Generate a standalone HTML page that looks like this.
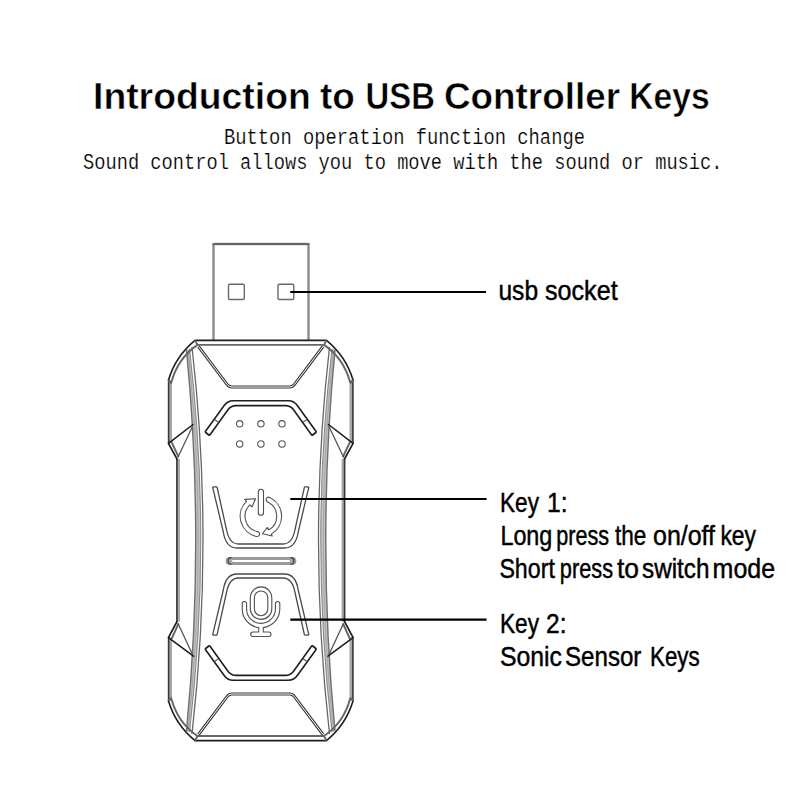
<!DOCTYPE html>
<html><head><meta charset="utf-8"><style>
html,body{margin:0;padding:0;background:#fff;width:800px;height:800px;overflow:hidden}
svg{display:block}
</style></head><body>
<svg width="800" height="800" viewBox="0 0 800 800">
<rect width="800" height="800" fill="#fff"/>
<g fill="#000">
<g font-family="'Liberation Sans', sans-serif" font-weight="bold" font-size="37.6" stroke="#fff" stroke-width="0.5">
<text x="93" y="108.7" textLength="217.8" lengthAdjust="spacingAndGlyphs">Introduction</text>
<text x="320" y="108.7" textLength="34.8" lengthAdjust="spacingAndGlyphs">to</text>
<text x="365.5" y="108.7" textLength="69.4" lengthAdjust="spacingAndGlyphs">USB</text>
<text x="444" y="108.7" textLength="176" lengthAdjust="spacingAndGlyphs">Controller</text>
<text x="629.25" y="108.7" textLength="80.4" lengthAdjust="spacingAndGlyphs">Keys</text>
</g>
<text transform="matrix(1 0 0 1.07 0 -10.08)" x="224" y="144" font-family="'Liberation Mono', monospace" font-size="20.5" stroke="#fff" stroke-width="0.2" textLength="361" lengthAdjust="spacingAndGlyphs">Button operation function change</text>
<text transform="matrix(1 0 0 1.07 0 -11.83)" x="83" y="169" font-family="'Liberation Mono', monospace" font-size="20.5" stroke="#fff" stroke-width="0.2" textLength="639.5" lengthAdjust="spacingAndGlyphs">Sound control allows you to move with the sound or music.</text>
<g font-family="'Liberation Sans', sans-serif" font-size="27.2" stroke="#000" stroke-width="0.45">
<text x="498.40" y="299.7" textLength="39.70" lengthAdjust="spacingAndGlyphs">usb</text>
<text x="545.00" y="299.7" textLength="72.61" lengthAdjust="spacingAndGlyphs">socket</text>
<text x="500.00" y="511.8" textLength="39.05" lengthAdjust="spacingAndGlyphs">Key</text>
<text x="547.00" y="511.8" textLength="20.57" lengthAdjust="spacingAndGlyphs">1:</text>
<text x="500.40" y="544.6" textLength="51.95" lengthAdjust="spacingAndGlyphs">Long</text>
<text x="556.20" y="544.6" textLength="52.88" lengthAdjust="spacingAndGlyphs">press</text>
<text x="615.00" y="544.6" textLength="31.42" lengthAdjust="spacingAndGlyphs">the</text>
<text x="653.00" y="544.6" textLength="62.02" lengthAdjust="spacingAndGlyphs">on/off</text>
<text x="720.40" y="544.6" textLength="35.66" lengthAdjust="spacingAndGlyphs">key</text>
<text x="499.40" y="577.8" textLength="55.43" lengthAdjust="spacingAndGlyphs">Short</text>
<text x="559.80" y="577.8" textLength="53.27" lengthAdjust="spacingAndGlyphs">press</text>
<text x="617.00" y="577.8" textLength="22.05" lengthAdjust="spacingAndGlyphs">to</text>
<text x="642.00" y="577.8" textLength="67.48" lengthAdjust="spacingAndGlyphs">switch</text>
<text x="712.60" y="577.8" textLength="62.53" lengthAdjust="spacingAndGlyphs">mode</text>
<text x="500.00" y="632.8" textLength="39.07" lengthAdjust="spacingAndGlyphs">Key</text>
<text x="546.00" y="632.8" textLength="20.46" lengthAdjust="spacingAndGlyphs">2:</text>
<text x="500.00" y="665.6" textLength="62.02" lengthAdjust="spacingAndGlyphs">Sonic</text>
<text x="565.00" y="665.6" textLength="76.41" lengthAdjust="spacingAndGlyphs">Sensor</text>
<text x="650.00" y="665.6" textLength="49.72" lengthAdjust="spacingAndGlyphs">Keys</text>
</g>
</g>
<!-- USB plug -->
<rect x="213.5" y="244" width="95" height="110" rx="1.2" fill="none" stroke="#8a8a8a" stroke-width="2.4"/>
<line x1="212.5" y1="244" x2="309.5" y2="244" stroke="#666" stroke-width="1.8"/>
<rect x="228.5" y="284.2" width="15.8" height="15.3" rx="1.2" fill="none" stroke="#6a6a6a" stroke-width="1.4"/>
<rect x="278" y="284.2" width="15.8" height="15.3" rx="1.2" fill="none" stroke="#6a6a6a" stroke-width="1.4"/>
<!-- body -->
<path d="M195 340.3 L326.5 340.3 Q346 356.4 353 380 L353 700.8 Q346 724.4 326.5 740.6 L195 740.6 Q175.5 724.4 168.5 700.8 L168.5 380 Q175.5 356.4 195 340.3 Z" fill="#fff"/>
<path d="M186.5 350 Q205 540 186.5 731 L189.5 732 Q212 540 189.5 349 Z M 335 350 Q 316.5 540 335 731 L 332 732 Q 309.5 540 332 349 Z" fill="#c4c4c4"/>
<path d="M186.5 350 Q205 540 186.5 731 M 335 350 Q 316.5 540 335 731" fill="none" stroke="#6e6e6e" stroke-width="1.4" />
<path d="M188 349.5 Q208.5 540 188 731.5 M 333.5 349.5 Q 313 540 333.5 731.5" fill="none" stroke="#a0a0a0" stroke-width="0.9" />
<path d="M189.5 349 Q212 540 189.5 732 M 332 349 Q 309.5 540 332 732" fill="none" stroke="#8a8a8a" stroke-width="1.1" />
<path d="M192 347 Q214 540 192 734 M 329.5 347 Q 307.5 540 329.5 734" fill="none" stroke="#666" stroke-width="1.3" />
<path d="M170.2 380 L170.2 443 M178.1 459 L178.1 621.5 M170.2 637.5 L170.2 700.8 M 351.3 380 L 351.3 443 M 343.4 459 L 343.4 621.5 M 351.3 637.5 L 351.3 700.8" fill="none" stroke="#a8a8a8" stroke-width="3.6" />
<path d="M168.6 379.5 L168.6 444 M176.9 458.5 L176.9 622 M168.6 637 L168.6 701.5 M 352.9 379.5 L 352.9 444 M 344.6 458.5 L 344.6 622 M 352.9 637 L 352.9 701.5" fill="none" stroke="#3a3a3a" stroke-width="1.6" />
<path d="M168.50 380.00 Q175.50 356.40 195.00 340.40 L326.50 340.40 Q346.00 356.40 353.00 380.00 M168.50 701.00 Q175.50 724.60 195.00 740.60 L326.50 740.60 Q346.00 724.60 353.00 701.00 M168.5 443.5 L177 459 M177 621.5 L168.5 637.5 M 353 443.5 L 344.5 459 M 344.5 621.5 L 353 637.5" fill="none" stroke="#1e1e1e" stroke-width="1.6" stroke-linejoin="round" stroke-linecap="round"/>
<path d="M171.20 382.80 Q177.80 358.20 197.50 344.90 L324.00 344.90 Q343.70 358.20 350.30 382.80 M171.20 698.20 Q177.80 722.80 197.50 736.00 L324.00 736.00 Q343.70 722.80 350.30 698.20 M171.5 442 L178.6 457 M178.6 623.5 L171.5 639 M195 340.4 L197.5 344.9 M168.5 380 L171.6 383.5 M168.5 700.8 L171.6 697.5 M195 740.6 L197.5 736 M 350 442 L 342.9 457 M 342.9 623.5 L 350 639 M 326.5 340.4 L 324 344.9 M 353 380 L 349.9 383.5 M 353 700.8 L 349.9 697.5 M 326.5 740.6 L 324 736" fill="none" stroke="#666" stroke-width="1.9" />
<path d="M168.8 443.2 L193 424.5 M168.8 637.8 L193.5 656.2 M 352.7 443.2 L 328.5 424.5 M 352.7 637.8 L 328 656.2" fill="none" stroke="#1a1a1a" stroke-width="1.5" stroke-linecap="round"/>
<path d="M192.5 426.5 L177.8 457.5 M177.8 623 L192.5 654.5 M 329 426.5 L 343.7 457.5 M 343.7 623 L 329 654.5" fill="none" stroke="#555" stroke-width="1.3" />
<path d="M198.50 346.50 L227.20 384.60 Q229.00 387.00 232.00 387.00 L289.50 387.00 Q292.50 387.00 294.30 384.60 L323.00 346.50" fill="none" stroke="#3a3a3a" stroke-width="3" />
<path d="M198.50 346.50 L227.20 384.60 Q229.00 387.00 232.00 387.00 L289.50 387.00 Q292.50 387.00 294.30 384.60 L323.00 346.50" fill="none" stroke="#fff" stroke-width="1" />
<path d="M198.50 734.50 L227.20 696.40 Q229.00 694.00 232.00 694.00 L289.50 694.00 Q292.50 694.00 294.30 696.40 L323.00 734.50" fill="none" stroke="#3a3a3a" stroke-width="3" />
<path d="M198.50 734.50 L227.20 696.40 Q229.00 694.00 232.00 694.00 L289.50 694.00 Q292.50 694.00 294.30 696.40 L323.00 734.50" fill="none" stroke="#fff" stroke-width="1" />
<path d="M205.00 432.00 L224.00 405.80 Q227.50 400.80 233.00 400.80 L288.50 400.80 Q294.00 400.80 297.50 405.80 L316.50 432.00 M209.50 435.50 L228.50 409.00 Q231.50 405.60 236.00 405.60 L285.50 405.60 Q290.00 405.60 293.00 409.00 L312.00 435.50 M205 432 L209.5 435.5 M 316.5 432 L 312 435.5 M 205.00 649.00 L 224.00 675.20 Q 227.50 680.20 233.00 680.20 L 288.50 680.20 Q 294.00 680.20 297.50 675.20 L 316.50 649.00 M 209.50 645.50 L 228.50 672.00 Q 231.50 675.40 236.00 675.40 L 285.50 675.40 Q 290.00 675.40 293.00 672.00 L 312.00 645.50 M 205.00 649.00 L 209.50 645.50 M 316.50 649.00 L 312.00 645.50" fill="none" stroke="#1e1e1e" stroke-width="1.6" />
<path d="M214.7 419.7 L218.6 422.2 M 306.8 419.7 L 302.9 422.2 M 214.70 661.30 L 218.60 658.80 M 306.80 661.30 L 302.90 658.80" fill="none" stroke="#555" stroke-width="1.1" />
<path d="M212.60 486.80 L223.30 532.00 Q225.80 548.00 237.00 548.00 L284.50 548.00 Q295.70 548.00 298.20 532.00 L308.90 486.80 M217.00 486.80 L226.60 530.00 Q229.30 544.00 238.50 544.00 L283.00 544.00 Q292.20 544.00 294.90 530.00 L304.50 486.80 M212.6 486.8 L217 486.8 M 308.9 486.8 L 304.5 486.8 M 212.60 635.20 L 223.30 590.00 Q 225.80 574.00 237.00 574.00 L 284.50 574.00 Q 295.70 574.00 298.20 590.00 L 308.90 635.20 M 217.00 635.20 L 226.60 592.00 Q 229.30 578.00 238.50 578.00 L 283.00 578.00 Q 292.20 578.00 294.90 592.00 L 304.50 635.20 M 212.60 635.20 L 217.00 635.20 M 308.90 635.20 L 304.50 635.20" fill="none" stroke="#4a4a4a" stroke-width="1.3" />

<g fill="none" stroke="#555" stroke-width="1.1"><circle cx="239.7" cy="423.8" r="3.2"/><circle cx="239.7" cy="443.9" r="3.2"/><circle cx="260.9" cy="423.8" r="3.2"/><circle cx="260.9" cy="443.9" r="3.2"/><circle cx="282" cy="423.8" r="3.2"/><circle cx="282" cy="443.9" r="3.2"/></g>
<line x1="229.6" y1="561" x2="292.4" y2="561" stroke="#9a9a9a" stroke-width="8" stroke-linecap="round"/>
<line x1="231" y1="561" x2="291" y2="561" stroke="#fff" stroke-width="2"/>
<circle cx="230" cy="561" r="2.4" fill="#a8a8a8"/>
<circle cx="292" cy="561" r="2.4" fill="#a8a8a8"/>
<path d="M231.5 557.6 A3.4 3.4 0 0 0 231.5 564.4 M290.5 557.6 A3.4 3.4 0 0 1 290.5 564.4" fill="none" stroke="#3a3a3a" stroke-width="1.1"/>
<g fill="none" stroke="#505050" stroke-width="1.1" stroke-linejoin="round">
<rect x="258.3" y="489.3" width="5.2" height="26" rx="2.6"/>
<path d="M256.60 536.45 A20.7 20.7 0 0 1 246.52 501.31 L244.64 499.37 L255.55 498.70 L252.01 506.99 L249.92 504.83 A15.8 15.8 0 0 0 257.61 531.65 A2.4499999999999993 2.4499999999999993 0 0 1 256.60 536.45 Z"/>
<path d="M269.65 497.44 A20.7 20.7 0 0 1 271.25 534.13 L272.30 535.95 L262.43 533.73 L267.40 527.46 L268.80 529.88 A15.8 15.8 0 0 0 267.58 501.88 A2.4499999999999993 2.4499999999999993 0 0 1 269.65 497.44 Z"/>
<rect x="250.3" y="586.9" width="21.5" height="32.5" rx="10.75"/>
<rect x="254.4" y="591" width="13.4" height="24.7" rx="6.7"/>
<path d="M242.2 603.7 A2.2 2.2 0 0 1 246.6 603.7 L246.6 609 A14.4 14.4 0 0 0 275.4 609 L275.4 603.7 A2.2 2.2 0 0 1 279.8 603.7 L279.8 609 A18.8 18.8 0 0 1 263.25 627.66 L263.25 632 L268.75 632 A2.25 2.25 0 0 1 268.75 636.5 L252.95 636.5 A2.25 2.25 0 0 1 252.95 632 L258.75 632 L258.75 627.66 A18.8 18.8 0 0 1 242.2 609 Z"/>
</g>
<g stroke="#000" stroke-width="2.2">
<line x1="290.3" y1="292" x2="486" y2="292"/>
<line x1="290.3" y1="499" x2="486.6" y2="499"/>
<line x1="290.3" y1="619.6" x2="486.6" y2="619.6"/>
</g>
</svg>
</body></html>
